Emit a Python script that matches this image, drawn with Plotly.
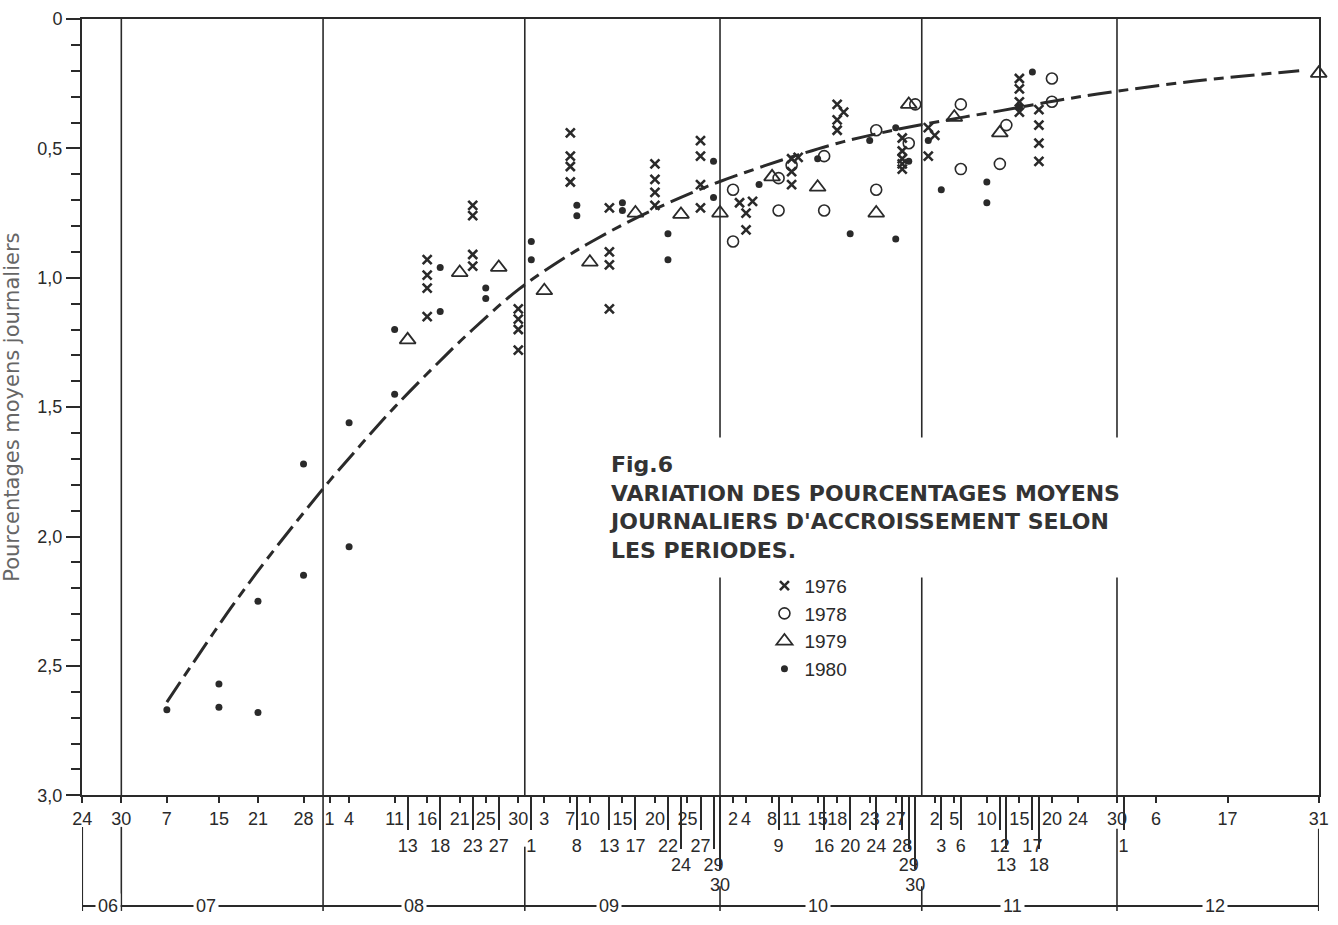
import plotly.graph_objects as go

YEAR = "1979-"
INK = "#2a2a2a"
FONT = "Liberation Sans"

# ---------------- data (MM-DD, value) ----------------
x1976 = ["08-16", "08-16", "08-16", "08-16",
         "08-23", "08-23", "08-23", "08-23",
         "08-30", "08-30", "08-30", "08-30",
         "09-07", "09-07", "09-07", "09-07",
         "09-13", "09-13", "09-13", "09-13",
         "09-20", "09-20", "09-20", "09-20",
         "09-27", "09-27", "09-27", "09-27",
         "10-03", "10-04", "10-04", "10-05",
         "10-11", "10-11", "10-11", "10-12",
         "10-18", "10-18", "10-18", "10-19",
         "10-28", "10-28", "10-28", "10-28", "10-28",
         "11-01", "11-01", "11-02",
         "11-15", "11-15", "11-15", "11-15",
         "11-18", "11-18", "11-18", "11-18"]
y1976 = [0.93, 0.99, 1.04, 1.15,
         0.72, 0.76, 0.91, 0.955,
         1.12, 1.16, 1.20, 1.28,
         0.44, 0.53, 0.57, 0.63,
         0.73, 0.90, 0.95, 1.12,
         0.56, 0.62, 0.67, 0.72,
         0.47, 0.53, 0.64, 0.73,
         0.71, 0.75, 0.815, 0.705,
         0.54, 0.59, 0.64, 0.535,
         0.33, 0.39, 0.43, 0.36,
         0.46, 0.51, 0.54, 0.56, 0.58,
         0.42, 0.53, 0.45,
         0.23, 0.27, 0.32, 0.36,
         0.35, 0.41, 0.48, 0.55]

x1978 = ["10-02", "10-02", "10-09", "10-09", "10-11", "10-16", "10-16",
         "10-24", "10-24", "10-29", "10-30", "11-06", "11-06", "11-12",
         "11-13", "11-20", "11-20"]
y1978 = [0.66, 0.86, 0.615, 0.74, 0.565, 0.53, 0.74,
         0.43, 0.66, 0.48, 0.33, 0.33, 0.58, 0.56,
         0.41, 0.23, 0.32]

x1979 = ["08-13", "08-21", "08-27", "09-03", "09-10", "09-17", "09-24",
         "09-30", "10-08", "10-15", "10-24", "10-29", "11-05", "11-12",
         "12-31"]
y1979 = [1.24, 0.98, 0.96, 1.05, 0.94, 0.75, 0.755,
         0.75, 0.61, 0.65, 0.75, 0.33, 0.38, 0.44,
         0.21]

x1980 = ["07-07", "07-15", "07-15", "07-21", "07-21", "07-28", "07-28",
         "08-04", "08-04", "08-11", "08-11", "08-18", "08-18", "08-25",
         "08-25", "09-01", "09-01", "09-08", "09-08", "09-15", "09-15",
         "09-22", "09-22", "09-29", "09-29", "10-06", "10-15", "10-20",
         "10-23", "10-27", "10-27", "10-29", "11-01", "11-03", "11-10",
         "11-10", "11-15", "11-17"]
y1980 = [2.67, 2.57, 2.66, 2.25, 2.68, 1.72, 2.15,
         1.56, 2.04, 1.20, 1.45, 0.96, 1.13, 1.04,
         1.08, 0.86, 0.93, 0.72, 0.76, 0.71, 0.74,
         0.83, 0.93, 0.55, 0.69, 0.64, 0.54, 0.83,
         0.47, 0.42, 0.85, 0.55, 0.47, 0.66, 0.63,
         0.71, 0.34, 0.205]

# fitted trend curve
curve_x = ["07-07", "07-11", "07-17", "07-22", "07-27", "08-01", "08-06",
           "08-11", "08-19", "08-23", "08-30", "09-06", "09-11", "09-16",
           "09-21", "09-26", "09-30", "10-07", "10-12", "10-19", "10-27",
           "11-04", "11-12", "11-19", "11-27", "12-12", "12-28"]
curve_y = [2.64, 2.49, 2.27, 2.10, 1.94, 1.785, 1.64,
           1.50, 1.296, 1.20, 1.046, 0.925, 0.85, 0.783,
           0.723, 0.668, 0.628, 0.566, 0.525, 0.474, 0.428,
           0.39, 0.355, 0.323, 0.29, 0.24, 0.20]

# tick dates, by label row
tick_row1 = ["06-24", "06-30", "07-07", "07-15", "07-21", "07-28", "08-01",
             "08-04", "08-11", "08-16", "08-21", "08-25", "08-30", "09-03",
             "09-07", "09-10", "09-15", "09-20", "09-25", "10-02", "10-04",
             "10-08", "10-11", "10-15", "10-18", "10-23", "10-27", "11-02",
             "11-05", "11-10", "11-15", "11-20", "11-24", "11-30", "12-06",
             "12-17", "12-31"]
tick_row2 = ["08-13", "08-18", "08-23", "08-27", "09-01", "09-08", "09-13",
             "09-17", "09-22", "09-27", "10-09", "10-16", "10-20", "10-24",
             "10-28", "11-03", "11-06", "11-12", "11-17", "12-01"]
tick_row3 = ["09-24", "09-29", "10-29", "11-13", "11-18"]
tick_row4 = ["09-30", "10-30"]

month_bounds = ["06-24", "06-30", "07-31", "08-31", "09-30", "10-31", "11-30", "12-31"]
month_label_dates = ["06-28", "07-13", "08-14", "09-13", "10-15", "11-14", "12-15"]
month_labels = ["06", "07", "08", "09", "10", "11", "12"]

y_ticks = [0, 0.5, 1.0, 1.5, 2.0, 2.5, 3.0]
y_ticktext = ["0", "0,5", "1,0", "1,5", "2,0", "2,5", "3,0"]


def D(s):
    return YEAR + s


def daylab(lst):
    return [str(int(s[3:])) for s in lst]


# ---------------- figure ----------------
W, H = 1338, 925
ML, MR, MT, MB = 82, 18, 19, 9
PH = H - MT - MB
BOTTOM_PX = H - MB


def py2paper(py):
    return (BOTTOM_PX - py) / PH


plot_bottom = py2paper(804)

fig = go.Figure()

fig.add_trace(go.Scatter(
    x=[D(s) for s in curve_x], y=curve_y, mode="lines",
    line=dict(color=INK, width=3, dash="24px,7px,10px,7px", shape="spline", smoothing=1.0),
    showlegend=False, hoverinfo="skip"))

series = [
    ("1976", x1976, y1976, "x-thin-open", 9, 2.6),
    ("1978", x1978, y1978, "circle-open", 11, 1.6),
    ("1979", x1979, y1979, "triangle-up-open", 14, 1.8),
    ("1980", x1980, y1980, "circle", 7, 0),
]
for name, xs, ys, sym, size, lw in series:
    fig.add_trace(go.Scatter(
        x=[D(s) for s in xs], y=ys, mode="markers", name=name,
        marker=dict(symbol=sym, size=size, color=INK, line=dict(color=INK, width=lw)),
        cliponaxis=False))

for ax in ["x2", "x3", "x4", "x5"]:
    fig.add_trace(go.Scatter(x=[None], y=[None], xaxis=ax, yaxis="y",
                             showlegend=False, hoverinfo="skip"))

xrange = [D("06-23") + " 23:00", D("12-31") + " 01:00"]
common = dict(type="date", range=xrange, showgrid=False, zeroline=False,
              tickangle=0, ticks="outside", tickcolor=INK, tickwidth=1.5,
              tickfont=dict(family=FONT, size=18, color=INK), fixedrange=True)

shapes = []
# month lines inside the plot
for b in month_bounds[1:-1]:
    shapes.append(dict(type="line", xref="x", yref="y", x0=D(b), x1=D(b), y0=0, y1=3,
                       line=dict(color=INK, width=1.6), layer="below"))
# month lines below the axis, down to the month bar
seg_top = {"06-24": 836, "06-30": 836, "07-31": 804, "08-31": 856,
           "09-30": 896, "10-31": 896, "11-30": 838, "12-31": 838}
for b in month_bounds:
    shapes.append(dict(type="line", xref="x", yref="paper", x0=D(b), x1=D(b),
                       y0=py2paper(921), y1=py2paper(seg_top[b]),
                       line=dict(color=INK, width=1.6)))

annotations = []
for dte, lab in zip(month_label_dates, month_labels):
    annotations.append(dict(x=D(dte), y=0, xref="x", yref="paper", text=lab,
                            showarrow=False, xanchor="center", yanchor="middle",
                            bgcolor="white", borderpad=2,
                            font=dict(family=FONT, size=18, color=INK)))

annotations.append(dict(
    x=(594 - ML) / (W - ML - MR), y=py2paper(442), xref="paper", yref="paper",
    xanchor="left", yanchor="top", align="left", showarrow=False,
    bgcolor="white", borderpad=14,
    text="<b>Fig.6<br>VARIATION DES POURCENTAGES MOYENS<br>"
         "JOURNALIERS D'ACCROISSEMENT SELON<br>LES PERIODES.</b>",
    font=dict(family="DejaVu Sans", size=22, color="#333333")))

fig.update_layout(
    width=W, height=H,
    margin=dict(l=ML, r=MR, t=MT, b=MB),
    paper_bgcolor="white", plot_bgcolor="white",
    font=dict(family=FONT, color=INK),
    showlegend=True,
    legend=dict(x=(765 - ML) / (W - ML - MR), y=py2paper(573), xanchor="left", yanchor="top",
                bgcolor="rgba(0,0,0,0)", font=dict(family=FONT, size=19, color=INK),
                tracegroupgap=0),
    xaxis=dict(common, anchor="y", tickvals=[D(s) for s in tick_row1],
               ticktext=daylab(tick_row1), ticklen=6,
               showline=True, linecolor=INK, linewidth=2, mirror=True),
    xaxis2=dict(common, overlaying="x", anchor="y", side="bottom",
                tickvals=[D(s) for s in tick_row2], ticktext=daylab(tick_row2),
                ticklen=34, showline=False),
    xaxis3=dict(common, overlaying="x", anchor="y", side="bottom",
                tickvals=[D(s) for s in tick_row3], ticktext=daylab(tick_row3),
                ticklen=53, showline=False),
    xaxis4=dict(common, overlaying="x", anchor="y", side="bottom",
                tickvals=[D(s) for s in tick_row4], ticktext=daylab(tick_row4),
                ticklen=73, showline=False),
    xaxis5=dict(common, overlaying="x", anchor="free", position=0, side="bottom",
                tickvals=[D(s) for s in month_bounds], ticklen=0,
                showticklabels=False, showline=True, linecolor=INK, linewidth=1.6),
    yaxis=dict(range=[3, 0], domain=[plot_bottom, 1], anchor="x",
               tickvals=y_ticks, ticktext=y_ticktext,
               ticks="outside", ticklen=14, tickwidth=1.5, tickcolor=INK,
               tickfont=dict(family=FONT, size=18, color=INK),
               minor=dict(dtick=0.1, ticks="outside", ticklen=9, tickwidth=1.5,
                          tickcolor=INK, showgrid=False),
               showline=True, linecolor=INK, linewidth=2, mirror=True,
               showgrid=False, zeroline=False, fixedrange=True,
               title=dict(text="Pourcentages moyens journaliers", standoff=12,
                          font=dict(family="DejaVu Sans", size=21, color="#666666"))),
    shapes=shapes,
    annotations=annotations,
)

fig.write_html("out.html")
